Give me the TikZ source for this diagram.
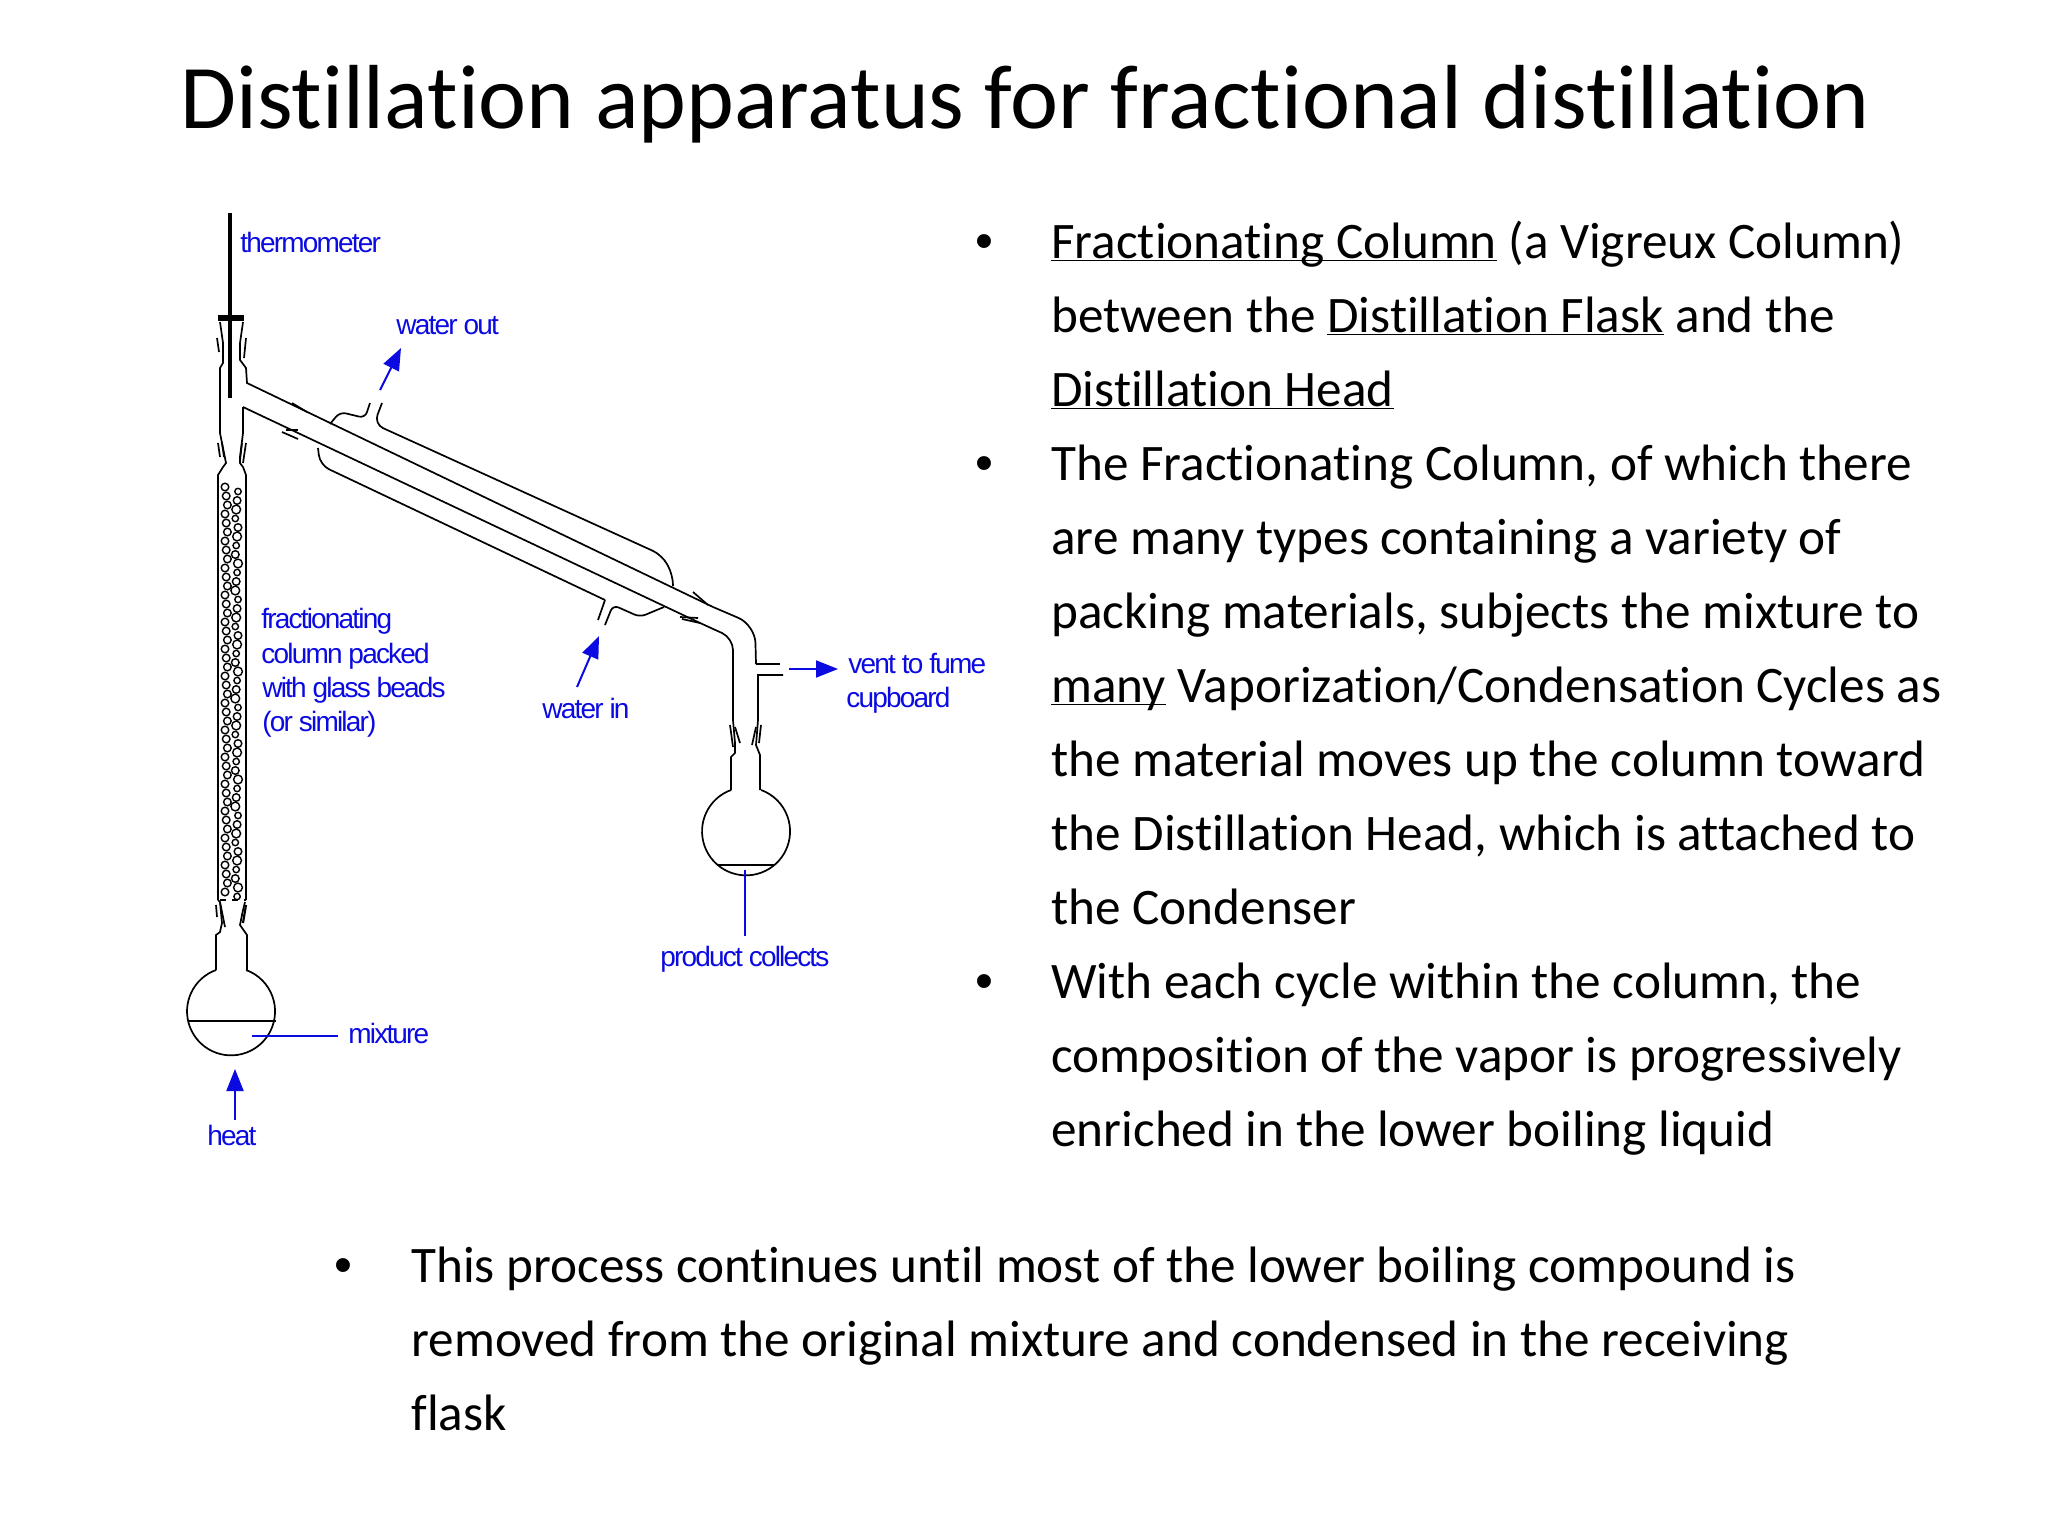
\documentclass[tikz,border=0pt]{standalone}
\usepackage{fontspec}
\setmainfont[Ligatures=CommonOff]{Carlito}
\newfontfamily\labelfont[LetterSpace=-6.5]{Liberation Sans}
\newfontfamily\bulletfont{Liberation Sans}
\usetikzlibrary{arrows.meta}
\definecolor{labelblue}{RGB}{10,10,225}
\newcommand{\ul}[1]{\underline{\smash{#1}}}
\tikzset{
  titletext/.style={anchor=base west,inner sep=0pt,font=\fontsize{45.5}{45.5}\selectfont},
  bodytext/.style={anchor=base west,inner sep=0pt,font=\fontsize{25.6}{25.6}\selectfont},
  dot/.style={anchor=base,inner sep=0pt,font=\bulletfont\fontsize{25.6}{25.6}\selectfont},
  bluetext/.style={anchor=base west,inner sep=0pt,text=labelblue,font=\labelfont\fontsize{14}{14}\selectfont},
  glass/.style={line width=0.85pt,black},
  bead/.style={line width=0.7pt,black},
  blueline/.style={line width=1pt,labelblue},
  bluearrow/.style={blueline,-{Triangle[length=11pt,width=8.5pt]}}
}
\begin{document}
\begin{tikzpicture}[x=0.5pt,y=-0.5pt]
    \useasboundingbox (0,0) rectangle (2048,1536);
    % title and text
    \node[titletext] (title) at (180,128) {Distillation apparatus for fractional distillation};
    \node[dot] (bulA) at (984,258) {•};
    \node[bodytext] (lineA) at (1051,258) {\ul{Fractionating Column} (a Vigreux Column)};
    \node[bodytext] (lineB) at (1051,332) {between the \ul{Distillation Flask} and the};
    \node[bodytext] (lineC) at (1051,406) {\ul{Distillation Head}};
    \node[dot] (bulB) at (984,480) {•};
    \node[bodytext] (lineD) at (1051,480) {The Fractionating Column, of which there};
    \node[bodytext] (lineE) at (1051,554) {are many types containing a variety of};
    \node[bodytext] (lineF) at (1051,628) {packing materials, subjects the mixture to};
    \node[bodytext] (lineG) at (1051,702) {\ul{many} Vaporization/Condensation Cycles as};
    \node[bodytext] (lineH) at (1051,776) {the material moves up the column toward};
    \node[bodytext] (lineI) at (1051,850) {the Distillation Head, which is attached to};
    \node[bodytext] (lineJ) at (1051,924) {the Condenser};
    \node[dot] (bulC) at (984,998) {•};
    \node[bodytext] (lineK) at (1051,998) {With each cycle within the column, the};
    \node[bodytext] (lineL) at (1051,1072) {composition of the vapor is progressively};
    \node[bodytext] (lineM) at (1051,1146) {enriched in the lower boiling liquid};
    \node[dot] (bulD) at (343,1282) {•};
    \node[bodytext] (lineN) at (411,1282) {This process continues until most of the lower boiling compound is};
    \node[bodytext] (lineO) at (411,1356) {removed from the original mixture and condensed in the receiving};
    \node[bodytext] (lineP) at (411,1430) {flask};
    % thermometer
    \draw[line width=2pt] (230,213)--(230,398);
    \draw[line width=2.6pt] (218,318)--(244,318);
    % head and left joints
    \draw[glass] (220,322)--(223,343)--(223,363)--(220,368)--(220,433)--(223,448)--(226,463)--(223,467)--(218,475)--(218,900);
    \draw[glass] (243,322)--(240,343)--(240,360)--(246,368)--(247,383)--(713,607);
    \draw[glass] (243,407)--(243,433)--(240,457)--(240,463)--(243,467)--(246,475)--(246,900);
    \draw[glass] (217,338)--(219,352); \draw[glass] (246,338)--(244,358);
    \draw[glass] (218,443)--(220,457); \draw[glass] (222,443)--(224,457);
    \draw[glass] (246,443)--(243,463); \draw[glass] (242,443)--(240,460);
    % side arm
    \draw[glass,rounded corners=6pt] (243,407)--(700,623)--(733,638)--(733,720);
    \draw[glass] (292,403)--(307,412); \draw[glass] (282,432)--(298,439); \draw[glass] (286,430)--(298,430);
    \draw[glass] (693,592)--(708,605); \draw[glass] (680,617)--(698,618); \draw[glass] (682,619)--(700,623);
    % condenser jacket
    \draw[glass,rounded corners=3pt] (330,424)--(340,412)--(365,418)--(370,403);
    \draw[glass,rounded corners=5pt] (382,403)--(374,424)--(662,555)--(673,575)--(673,586);
    \draw[glass,rounded corners=5pt] (318,448)--(320,465)--(605,600);
    \draw[glass] (605,600)--(598,620);
    \draw[glass,rounded corners=3pt] (605,625)--(613,605)--(640,617)--(664,607);
    % bend down to the receiver
    \draw[glass,rounded corners=9pt] (713,607)--(755,625)--(756,664);
    \draw[glass] (756,664)--(780,664);
    \draw[glass] (783,675)--(758,675)--(758,720)--(756,745)--(760,755)--(760,790);
    \draw[glass] (733,720)--(735,743)--(735,753)--(731,757)--(731,790);
    \draw[glass] (730,725)--(733,747); \draw[glass] (735,727)--(740,743);
    \draw[glass] (761,725)--(759,743); \draw[glass] (756,727)--(752,745);
    % lower joint and boiling flask
    \draw[glass] (218,900)--(220,902)--(225,927);
    \draw[glass,dashed] (220,900)--(246,900);
    \draw[glass] (220,902)--(222,923)--(220,932)--(216,935)--(216,970);
    \draw[glass] (245,902)--(243,910)--(240,925)--(247,935)--(247,970);
    \draw[glass] (216,905)--(217,917); \draw[line width=1.1pt] (246,905)--(243,923);
    \draw[glass] (216,970) arc[start angle=-110,end angle=-430,radius=44];
    \draw[line width=1pt] (188,1021)--(276,1021);
    % receiving flask
    \draw[glass] (731,790) arc[start angle=-110,end angle=-430,radius=44];
    \draw[line width=1pt] (717,865)--(775,865);
    % glass beads
    \foreach \row in {0,...,45}{
      \pgfmathsetmacro{\ya}{487+9*\row}
      \pgfmathsetmacro{\xa}{225+mod(\row*7,3)*1.2}
      \pgfmathsetmacro{\xb}{238-mod(\row*5,4)*0.9}
      \draw[bead] (\xa,\ya) circle[radius=3.8];
      \draw[bead] (\xb,\ya+4.5) circle[radius={3.2+mod(\row,3)*0.6}];
    }
    % labels
    \node[bluetext] (thermometer) at (240,252) {thermometer};
    \node[bluetext] (waterout) at (396,334) {water out};
    \node[bluetext] (fractA) at (261,628) {fractionating};
    \node[bluetext] (fractB) at (261,663) {column packed};
    \node[bluetext] (fractC) at (262,697) {with glass beads};
    \node[bluetext] (fractD) at (262,731) {(or similar)};
    \node[bluetext] (waterin) at (542,718) {water in};
    \node[bluetext] (ventA) at (848,673) {vent to fume};
    \node[bluetext] (ventB) at (846,707) {cupboard};
    \node[bluetext] (product) at (660,966) {product collects};
    \node[bluetext] (mixture) at (348,1043) {mixture};
    \node[bluetext] (heat) at (207,1145) {heat};
    % blue arrows
    \coordinate (wotail) at (380,390);
    \coordinate (wohead) at (401,348);
    \coordinate (witail) at (577,687);
    \coordinate (wihead) at (599,636);
    \coordinate (venttail) at (789,669);
    \coordinate (venthead) at (838,669);
    \coordinate (heattail) at (235,1120);
    \coordinate (heathead) at (235,1069);
    \coordinate (prodtop) at (745,870);
    \coordinate (prodend) at (745,936);
    \coordinate (mixstart) at (252,1036);
    \coordinate (mixend) at (338,1036);
    \draw[bluearrow] (wotail)--(wohead);
    \draw[bluearrow] (witail)--(wihead);
    \draw[bluearrow] (venttail)--(venthead);
    \draw[bluearrow] (heattail)--(heathead);
    \draw[blueline] (prodtop)--(prodend);
    \draw[blueline] (mixstart)--(mixend);
\end{tikzpicture}
\end{document}
